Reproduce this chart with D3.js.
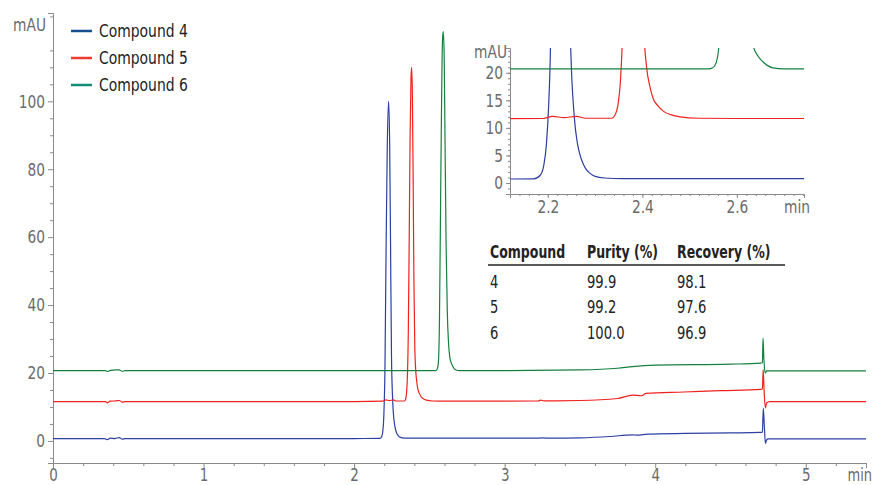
<!DOCTYPE html>
<html>
<head>
<meta charset="utf-8">
<script src="https://cdn.jsdelivr.net/npm/d3@7"></script>
<style>
  body { margin: 0; background: #fff; }
  svg { display: block; font-family: "DejaVu Sans Condensed", "DejaVu Sans", sans-serif; }
  .axis path, .axis line { stroke: #8a8a8a; }
  .axis text { fill: #6b6b6b; font-size: 18px; font-family: "DejaVu Sans Condensed", "DejaVu Sans", sans-serif; }
</style>
</head>
<body>
<svg id="chart" width="873" height="485"></svg>
<script>
// chromatogram traces, [time (min), signal (mAU)]
var compound4 = [[0,0.7],[0.34,0.7],[0.36,0.4],[0.38,0.8],[0.41,0.7],[0.44,1.0],[0.46,0.5],[0.48,0.7],[1.0,0.7],[1.5,0.7],[2.0,0.7],
  [2.17,0.75],[2.184,1.4],[2.191,3],[2.197,7],[2.205,22],[2.212,55],[2.220,86],[2.229,100],[2.236,88],[2.242,58],[2.248,26],
  [2.256,12],[2.263,7],[2.271,4.3],[2.28,2.6],[2.29,1.7],[2.30,1.2],[2.32,0.9],[2.36,0.8],[2.6,0.8],[3.0,0.8],[3.2,0.8],
  [3.25,0.9],[3.3,0.8],[3.5,0.9],[3.7,1.3],[3.85,1.8],[3.88,1.7],[3.95,2.0],[4.2,2.2],[4.5,2.35],[4.70,2.5],[4.712,2.6],
  [4.718,9.7],[4.725,4],[4.732,-0.7],[4.74,0.3],[4.75,0.6],[5.0,0.6],[5.4,0.6]];
var compound5 = [[0,11.6],[0.35,11.6],[0.36,11.2],[0.38,11.7],[0.42,11.8],[0.44,11.9],[0.46,11.4],[0.48,11.6],[1.0,11.6],[1.5,11.6],
  [2.0,11.6],[2.19,11.7],[2.21,12.1],[2.235,11.85],[2.26,12.1],[2.28,11.75],[2.335,11.75],[2.342,12.3],[2.348,14],[2.354,19],
  [2.360,32],[2.366,60],[2.372,90],[2.378,107],[2.382,110],[2.387,102],[2.392,78],[2.397,48],[2.403,28],[2.409,21],[2.416,17.5],
  [2.423,15.3],[2.433,14],[2.445,13],[2.46,12.4],[2.48,12],[2.52,11.75],[2.6,11.7],[3.0,11.7],[3.22,11.75],[3.24,12.0],[3.26,11.8],
  [3.5,11.9],[3.75,12.5],[3.85,13.5],[3.91,13.3],[3.94,14.0],[4.19,14.4],[4.43,14.8],[4.70,15.2],[4.712,15.3],[4.717,21],
  [4.724,14],[4.732,9.7],[4.74,11.2],[4.76,11.6],[5.0,11.6],[5.4,11.6]];
var compound6 = [[0,20.7],[0.35,20.7],[0.36,20.4],[0.38,20.8],[0.42,20.9],[0.44,20.9],[0.46,20.5],[0.48,20.7],[1.0,20.7],[2.0,20.7],
  [2.54,20.7],[2.549,20.9],[2.556,21.8],[2.561,24],[2.567,36],[2.574,68],[2.581,100],[2.587,118],[2.592,120.5],[2.598,114],
  [2.604,88],[2.611,58],[2.619,38],[2.627,29],[2.635,24.8],[2.645,23],[2.655,22],[2.665,21.3],[2.676,20.9],[2.70,20.7],[3.0,20.7],
  [3.5,20.9],[3.75,21.4],[3.85,21.9],[4.0,22.3],[4.5,22.6],[4.70,22.9],[4.712,23],[4.716,30.3],[4.722,24],[4.73,20],[4.74,20.6],
  [5.0,20.6],[5.4,20.6]];

var seriesNames = ["Compound 4", "Compound 5", "Compound 6"];
var traceColors = ["#2c3fa3", "#f0221e", "#16803f"];
var legendColors = ["#15508e", "#ef3b2c", "#148c77"];

var mainXTicks = [0, 1, 2, 3, 4, 5];
var mainYTicks = [0, 20, 40, 60, 80, 100];
var insetXTicks = [2.2, 2.4, 2.6];
var insetYTicks = [0, 5, 10, 15, 20];

var tableHeader = ["Compound", "Purity (%)", "Recovery (%)"];
var tableCompound = ["4", "5", "6"];
var tablePurity = ["99.9", "99.2", "100.0"];
var tableRecovery = ["98.1", "97.6", "96.9"];

(function () {
  'use strict';
  var svg = d3.select('#chart');
  var traces = [compound4, compound5, compound6];

  // narrow the condensed font a little more, like the original's type
  function squeeze(sel, k) {
    sel.each(function () {
      var t = d3.select(this);
      var x0 = +t.attr('x') || 0;
      t.attr('x', x0 / k).attr('transform', 'scale(' + k + ',1)');
    });
  }

  // ---- main chart ----
  var x = d3.scaleLinear().domain([0, 5.4]).range([53, 866]);
  var y = d3.scaleLinear().domain([-6.5, 126]).range([463, 13]);

  var xMinor = d3.range(0, 5.41, 0.2).filter(function (d) { return Math.abs(d - Math.round(d)) > 0.01; });
  var yMinor = d3.range(-5, 126, 5).filter(function (d) { return d % 20 !== 0; });

  svg.append('g').attr('class', 'axis').attr('transform', 'translate(0,463)')
    .call(d3.axisBottom(x).tickValues(xMinor).tickSize(3).tickFormat(''))
    .select('.domain').remove();
  var xa = svg.append('g').attr('class', 'axis').attr('transform', 'translate(0,463)')
    .call(d3.axisBottom(x).tickValues(mainXTicks).tickSizeOuter(0).tickSize(5).tickPadding(1).tickFormat(d3.format('d')));
  xa.selectAll('text').style('font-size', '17px');
  squeeze(xa.selectAll('text'), 0.88);
  svg.append('g').attr('class', 'axis').attr('transform', 'translate(53,0)')
    .call(d3.axisLeft(y).tickValues(yMinor).tickSize(3).tickFormat(''))
    .select('.domain').remove();
  var ya = svg.append('g').attr('class', 'axis').attr('transform', 'translate(53,0)')
    .call(d3.axisLeft(y).tickValues(mainYTicks).tickSizeOuter(0).tickSize(5).tickPadding(3));
  squeeze(ya.selectAll('text'), 0.85);

  var labels = svg.append('g').attr('fill', '#6b6b6b').style('font-size', '18px');
  squeeze(labels.append('text').attr('x', 46).attr('y', 31).attr('text-anchor', 'end').text('mAU'), 0.85);
  squeeze(labels.append('text').attr('x', 872).attr('y', 481).attr('text-anchor', 'end')
    .style('font-size', '17px').text('min'), 0.85);

  var line = d3.line().x(function (d) { return x(d[0]); }).y(function (d) { return y(d[1]); })
    .curve(d3.curveMonotoneX);
  svg.append('g').selectAll('path').data(traces).enter().append('path')
    .attr('d', line).attr('fill', 'none')
    .attr('stroke', function (d, i) { return traceColors[i]; })
    .attr('stroke-width', 1.2);

  // ---- legend ----
  var legend = svg.append('g').selectAll('g').data(seriesNames).enter().append('g')
    .attr('transform', function (d, i) { return 'translate(71,' + (31 + i * 27) + ')'; });
  legend.append('line').attr('x1', 0).attr('x2', 21)
    .attr('stroke', function (d, i) { return legendColors[i]; }).attr('stroke-width', 2.5);
  squeeze(legend.append('text').attr('x', 28).attr('dy', '0.36em')
    .attr('fill', '#222').style('font-size', '18px').text(function (d) { return d; }), 0.86);

  // ---- inset ----
  var ix = d3.scaleLinear().domain([2.12, 2.742]).range([510, 804]);
  var iy = d3.scaleLinear().domain([-2, 24.5]).range([194, 48]);

  svg.append('defs').append('clipPath').attr('id', 'insetClip')
    .append('rect').attr('x', 510).attr('y', 48).attr('width', 294).attr('height', 146);

  svg.append('g').attr('class', 'axis').attr('transform', 'translate(0,194)')
    .call(d3.axisBottom(ix).tickValues(d3.range(2.14, 2.741, 0.02)).tickSize(2).tickFormat(''))
    .select('.domain').remove();
  var ixa = svg.append('g').attr('class', 'axis').attr('transform', 'translate(0,194)')
    .call(d3.axisBottom(ix).tickValues(insetXTicks).tickSizeOuter(0).tickSize(4).tickPadding(2).tickFormat(d3.format('.1f')));
  squeeze(ixa.selectAll('text'), 0.85);
  svg.append('g').attr('class', 'axis').attr('transform', 'translate(510,0)')
    .call(d3.axisLeft(iy).tickValues(d3.range(-2, 25, 1)).tickSize(2).tickFormat(''))
    .select('.domain').remove();
  var iya = svg.append('g').attr('class', 'axis').attr('transform', 'translate(510,0)')
    .call(d3.axisLeft(iy).tickValues(insetYTicks).tickSizeOuter(0).tickSize(4).tickPadding(3));
  squeeze(iya.selectAll('text'), 0.85);

  squeeze(labels.append('text').attr('x', 507).attr('y', 58).attr('text-anchor', 'end').text('mAU'), 0.85);
  squeeze(labels.append('text').attr('x', 784).attr('y', 213).text('min'), 0.85);

  var iline = d3.line().x(function (d) { return ix(d[0]); }).y(function (d) { return iy(d[1]); })
    .curve(d3.curveMonotoneX);
  svg.append('g').attr('clip-path', 'url(#insetClip)').selectAll('path').data(traces).enter().append('path')
    .attr('d', iline).attr('fill', 'none')
    .attr('stroke', function (d, i) { return traceColors[i]; })
    .attr('stroke-width', 1.2);

  // ---- table ----
  var colX = [490, 587, 677];
  var table = svg.append('g').style('font-size', '17px').attr('fill', '#222');
  squeeze(table.selectAll('text.head').data(tableHeader).enter().append('text')
    .attr('class', 'head').attr('x', function (d, i) { return colX[i]; }).attr('y', 258)
    .style('font-weight', 'bold').text(function (d) { return d; }), 0.82);
  table.append('line').attr('x1', 488).attr('x2', 785).attr('y1', 265).attr('y2', 265)
    .attr('stroke', '#222').attr('stroke-width', 1.3);
  var rows = tableCompound.map(function (c, i) { return [c, tablePurity[i], tableRecovery[i]]; });
  rows.forEach(function (r, ri) {
    squeeze(table.selectAll(null).data(r).enter().append('text')
      .attr('x', function (d, i) { return colX[i]; }).attr('y', 288 + ri * 25.5)
      .text(function (d) { return d; }), 0.86);
  });
})();
</script>
</body>
</html>
